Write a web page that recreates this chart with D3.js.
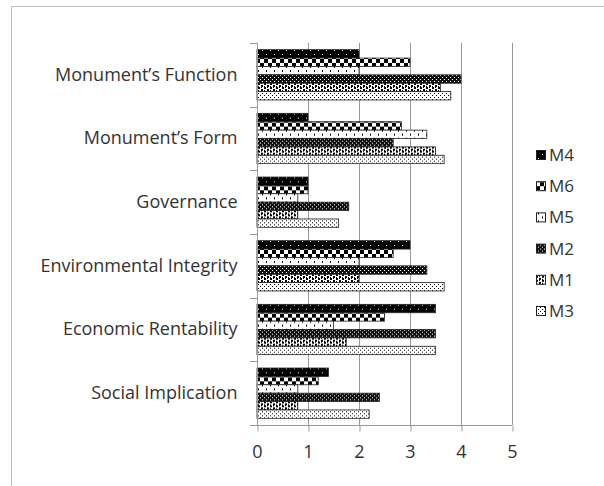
<!DOCTYPE html>
<html>
<head>
<meta charset="utf-8">
<script src="https://cdn.jsdelivr.net/npm/d3@7"></script>
<style>
  body { margin: 0; background: #fff; }
  svg text { font-family: "Open Sans", "Noto Sans", sans-serif; fill: #333; }
</style>
</head>
<body>
<div id="chart"></div>
<script>
const categories = ["Monument\u2019s Function", "Monument\u2019s Form", "Governance",
  "Environmental Integrity", "Economic Rentability", "Social Implication"];
const seriesNames = ["M4", "M6", "M5", "M2", "M1", "M3"];
const m4 = [2, 1, 1, 3, 3.5, 1.4];
const m6 = [3, 2.83, 1, 2.67, 2.5, 1.2];
const m5 = [2, 3.33, 0.8, 2, 1.5, 0.8];
const m2 = [4, 2.67, 1.8, 3.33, 3.5, 2.4];
const m1 = [3.6, 3.5, 0.8, 2, 1.75, 0.8];
const m3 = [3.8, 3.67, 1.6, 3.67, 3.5, 2.2];
const xTicks = [0, 1, 2, 3, 4, 5];

const values = { M4: m4, M6: m6, M5: m5, M2: m2, M1: m1, M3: m3 };

const width = 604, height = 486;
const plot = { left: 257, right: 512, top: 43, bottom: 425 };

const svg = d3.select("#chart").append("svg")
  .attr("width", width)
  .attr("height", height);

// Patterns for each series
const defs = svg.append("defs");
function pattern(id, w, h, bg, fg, cells) {
  const p = defs.append("pattern")
    .attr("id", id)
    .attr("patternUnits", "userSpaceOnUse")
    .attr("width", w).attr("height", h);
  p.append("rect").attr("width", w).attr("height", h).attr("fill", bg);
  cells.forEach(c => p.append("rect")
    .attr("x", c[0]).attr("y", c[1])
    .attr("width", c[2] || 1).attr("height", c[3] || 1)
    .attr("fill", fg));
}
pattern("p-M4", 8, 8, "#000", "#fff", [[2, 3], [6, 7]]);
pattern("p-M6", 8, 8, "#fff", "#000", [[0, 0, 4, 4], [4, 4, 4, 4]]);
pattern("p-M5", 8, 8, "#fff", "#000", [[2, 3, 1, 2], [6, 7, 1, 1], [6, 0, 1, 1]]);
pattern("p-M2", 4, 4, "#111", "#fff", [[0, 0], [2, 2]]);
pattern("p-M1", 6, 4, "#fff", "#000", [[0, 0, 2, 2], [3, 0, 1, 1], [3, 2, 2, 2], [0, 3, 1, 1]]);
pattern("p-M3", 4, 4, "#fff", "#000", [[0, 0], [2, 2]]);

// Outer frame
svg.append("rect")
  .attr("x", 11.5).attr("y", 6.5)
  .attr("width", 640).attr("height", 520)
  .attr("fill", "none")
  .attr("stroke", "#bfbfbf");

const x = d3.scaleLinear().domain([0, 5]).range([plot.left, plot.right]);
const y0 = d3.scaleBand().domain(categories).range([plot.top, plot.bottom]);
const gap = y0.bandwidth() * 0.105;
const y1 = d3.scaleBand().domain(seriesNames).range([gap, y0.bandwidth() - gap]);

// Gridlines
svg.append("g")
  .selectAll("line")
  .data(xTicks.slice(1))
  .join("line")
  .attr("x1", d => x(d) + 0.5).attr("x2", d => x(d) + 0.5)
  .attr("y1", plot.top).attr("y2", plot.bottom)
  .attr("stroke", "#9a9a9a");

// Bars
const groups = svg.append("g")
  .selectAll("g")
  .data(categories)
  .join("g")
  .attr("transform", d => `translate(0,${y0(d)})`);

groups.selectAll("rect")
  .data((c, i) => seriesNames.map(s => ({ s, v: values[s][i] })))
  .join("rect")
  .attr("x", x(0))
  .attr("y", d => y1(d.s))
  .attr("width", d => x(d.v) - x(0))
  .attr("height", y1.bandwidth())
  .attr("fill", d => `url(#p-${d.s})`)
  .attr("stroke", "#222")
  .attr("stroke-width", 0.8);

// X axis
const xAxis = svg.append("g")
  .attr("transform", `translate(0,${plot.bottom + 0.5})`)
  .call(d3.axisBottom(x).tickValues(xTicks).tickFormat(d3.format("d")).tickSize(6).tickPadding(14));
xAxis.select(".domain").attr("stroke", "#9a9a9a").attr("d", `M${plot.left - 7},0H${plot.right}`);
xAxis.selectAll(".tick line").attr("stroke", "#9a9a9a").attr("transform", "translate(0.5,0)");
xAxis.selectAll(".tick text")
  .style("font-size", "18px")
  .attr("fill", "#333");

// Y axis
const yAxis = svg.append("g")
  .attr("transform", `translate(${plot.left + 0.5},0)`)
  .call(d3.axisLeft(y0).tickSize(0).tickPadding(20));
yAxis.select(".domain").attr("stroke", "#9a9a9a").attr("d", `M0,${plot.top}V${plot.bottom}`);
yAxis.selectAll(".tick text")
  .style("font-size", "18px")
  .attr("fill", "#333");

// Category separator ticks
svg.append("g")
  .selectAll("line")
  .data(categories.map(c => y0(c)).concat([plot.bottom]))
  .join("line")
  .attr("x1", plot.left - 7).attr("x2", plot.left)
  .attr("y1", d => Math.round(d) + 0.5).attr("y2", d => Math.round(d) + 0.5)
  .attr("stroke", "#9a9a9a");

// Legend
const legend = svg.append("g")
  .selectAll("g")
  .data(seriesNames)
  .join("g")
  .attr("transform", (d, i) => `translate(536,${155 + i * 31.2})`);
legend.append("rect")
  .attr("x", 0.5).attr("y", -4.5)
  .attr("width", 9).attr("height", 9)
  .attr("fill", d => `url(#p-${d})`)
  .attr("stroke", "#222");
legend.append("text")
  .attr("x", 13)
  .attr("dy", "0.35em")
  .style("font-size", "17px")
  .text(d => d);
</script>
</body>
</html>
